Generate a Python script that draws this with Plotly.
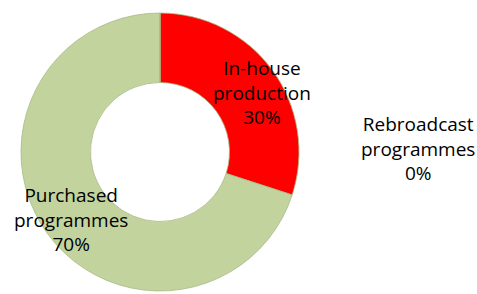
import math
import plotly.graph_objects as go

categories = ["In-house production", "Purchased programmes", "Rebroadcast programmes"]
category_lines = ["In-house<br>production", "Purchased<br>programmes", "Rebroadcast<br>programmes"]
values = [30, 70, 0]
colors = ["#FF0000", "#C2D39E", "#8FA9D6"]

W, H = 477, 294
FONT = dict(family="Open Sans, Liberation Sans, sans-serif", size=19, color="black")
dom_x = [0.0440, 0.6268]
dom_y = [0.0102, 0.9558]

total = sum(values)

fig = go.Figure()
fig.add_trace(go.Pie(
    labels=categories,
    values=values,
    hole=0.5,
    sort=False,
    direction="clockwise",
    rotation=0,
    marker=dict(colors=colors, line=dict(color="#A9BA86", width=0.8)),
    textinfo="none",
    showlegend=False,
    domain=dict(x=dom_x, y=dom_y),
))

# slice labels placed at the middle angle of each slice
cx = (dom_x[0] + dom_x[1]) / 2 * W
cy = (dom_y[0] + dom_y[1]) / 2 * H
R = min((dom_x[1] - dom_x[0]) * W, (dom_y[1] - dom_y[0]) * H) / 2
rl = 0.83 * R
shifts = [(9, -8), (4, 0)]
cum = 0
for i, v in enumerate(values):
    if v > 0:
        th = 2 * math.pi * (cum + v / 2) / total
        lx = cx + rl * math.sin(th)
        ly = cy + rl * math.cos(th)
        fig.add_annotation(
            x=lx / W, y=ly / H, xref="paper", yref="paper",
            xanchor="center", yanchor="middle",
            text=f"{category_lines[i]}<br>{v / total:.0%}",
            showarrow=False, align="center", font=FONT,
            xshift=shifts[i][0], yshift=shifts[i][1],
        )
    else:
        fig.add_annotation(
            x=418 / W, y=(H - 148) / H, xref="paper", yref="paper",
            xanchor="center", yanchor="middle",
            text=f"{category_lines[i]}<br>{v / total:.0%}",
            showarrow=False, align="center", font=FONT,
        )
    cum += v

fig.update_layout(
    width=W, height=H,
    margin=dict(l=0, r=0, t=0, b=0),
    paper_bgcolor="white", plot_bgcolor="white",
)

fig.write_html(
    "out.html",
    config={"displayModeBar": False},
    post_script="document.body.style.margin='0';document.body.style.overflow='hidden';",
)
